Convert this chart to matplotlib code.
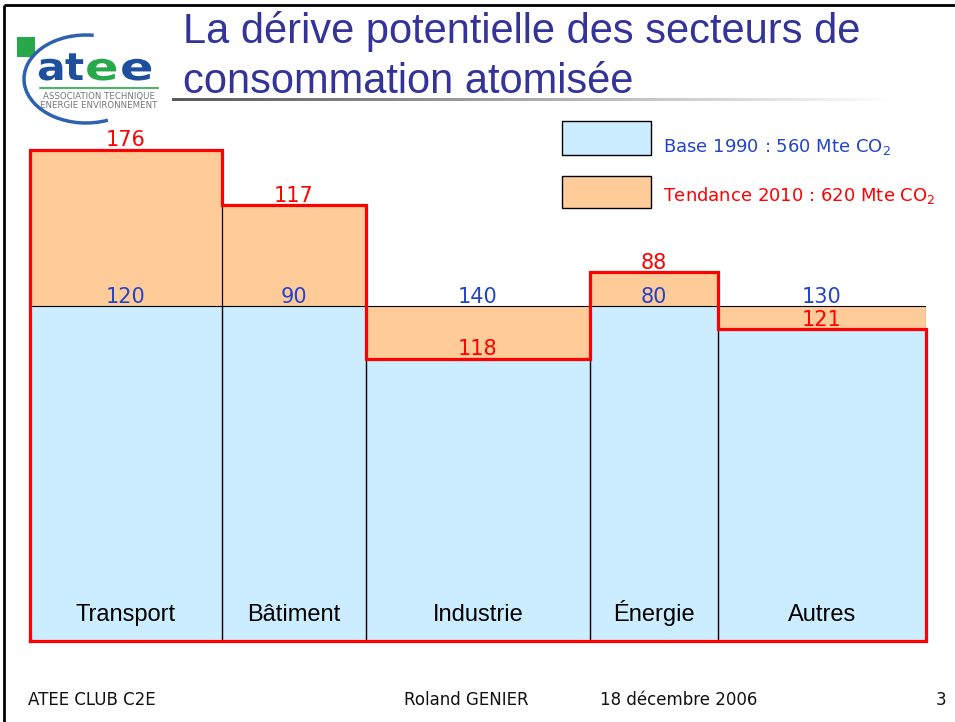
import numpy as np
import matplotlib
matplotlib.use("Agg")
import matplotlib.pyplot as plt
from matplotlib.patches import Rectangle, Arc, PathPatch
from matplotlib.textpath import TextPath
from matplotlib.font_manager import FontProperties
from matplotlib.transforms import Affine2D

categories = ["Transport", "Bâtiment", "Industrie", "Énergie", "Autres"]
base_1990 = [120, 90, 140, 80, 130]
tendance_2010 = [176, 117, 118, 88, 121]
legend_labels = ["Base 1990 : 560 Mte CO$_2$", "Tendance 2010 : 620 Mte CO$_2$"]
title_lines = ["La dérive potentielle des secteurs de", "consommation atomisée"]
footer = ["ATEE CLUB C2E", "Roland GENIER", "18 décembre 2006", "3"]

BLUE_FILL = "#CCECFF"
ORANGE_FILL = "#FFCC99"
BLUE_TXT = "#2244CC"
RED = "#FF0000"
TITLE_COL = "#333399"

W, H = 955, 722
fig = plt.figure(figsize=(W / 100, H / 100), dpi=100)
fig.patch.set_facecolor("white")

# axe principal : largeur = base 1990, hauteur = tendance / base
base = np.array(base_1990, dtype=float)
tend = np.array(tendance_2010, dtype=float)
ratio = tend / base
edges = np.concatenate([[0], np.cumsum(base)])
lefts = edges[:-1]
low = np.minimum(ratio, 1)
high = np.maximum(ratio, 1)

px_bottom, px_one, px_top = 641, 306, 100
ax = fig.add_axes([30 / W, (H - px_bottom) / H, 896 / W, (px_bottom - px_top) / H])
ax.set_xlim(0, edges[-1])
ax.set_ylim(0, (px_bottom - px_top) / (px_bottom - px_one))
ax.axis("off")

ax.bar(lefts, high - low, width=base, bottom=low, align="edge", color=ORANGE_FILL, lw=0)
ax.bar(lefts, low, width=base, align="edge", color=BLUE_FILL, lw=0)
ax.bar(lefts, np.ones(len(base)), width=base, align="edge", fill=False, edgecolor="black", lw=0.8)
ax.bar(lefts, ratio, width=base, align="edge", fill=False, edgecolor="black", lw=0.8)

# contour rouge de la tendance 2010
xs, ys = [0], [0]
for i in range(len(base)):
    xs += [edges[i], edges[i + 1]]
    ys += [ratio[i], ratio[i]]
xs += [edges[-1], 0]
ys += [0, 0]
ax.plot(xs, ys, color=RED, lw=2.3, clip_on=False, solid_joinstyle="miter")

for i, cat in enumerate(categories):
    cx = lefts[i] + base[i] / 2
    ax.annotate(str(base_1990[i]), (cx, 1), xytext=(0, 2.5), textcoords="offset points",
                ha="center", va="baseline", color=BLUE_TXT, fontsize=15, family="DejaVu Sans")
    ax.annotate(str(tendance_2010[i]), (cx, ratio[i]), xytext=(0, 2.5), textcoords="offset points",
                ha="center", va="baseline", color=RED, fontsize=15, family="DejaVu Sans")
    ax.text(cx, 0.06, cat, ha="center", va="baseline", fontsize=17, family="Liberation Sans")

# calque en pixels pour le reste de la diapo
ov = fig.add_axes([0, 0, 1, 1], zorder=5)
ov.set_xlim(0, W)
ov.set_ylim(H, 0)
ov.axis("off")
ov.patch.set_alpha(0)

# cadre
ov.plot([4, W], [5, 5], color="black", lw=2, solid_capstyle="butt")
ov.plot([4, 4], [5, H], color="black", lw=2, solid_capstyle="butt")

# titre
ov.text(183, 43, title_lines[0], color=TITLE_COL, fontsize=30, family="Liberation Sans", va="baseline")
ov.text(183, 93, title_lines[1], color=TITLE_COL, fontsize=30, family="Liberation Sans", va="baseline")
grad = fig.add_axes([172 / W, 1 - 101 / H, (900 - 172) / W, 3 / H], zorder=4)
grad.imshow(np.linspace(0.35, 1, 256)[None, :], cmap="gray", vmin=0, vmax=1, aspect="auto")
grad.axis("off")

# logo atee (lettres larges, d'où TextPath étiré)
logo_blue = "#1D4F9E"
logo_green = "#27A84A"
ov.add_patch(Rectangle((17, 37), 18, 20, color=logo_green, lw=0))
ov.add_patch(Arc((86, 79), 124, 88, theta1=62, theta2=280, color="#2E62B0", lw=2.5))
bold = FontProperties(family="DejaVu Sans", weight="bold")
for ch, x, sx, col in zip("atee", [37, 65, 85, 120], [1.12, 1.05, 1.3, 1.3],
                          [logo_blue, logo_blue, logo_green, logo_blue]):
    tp = TextPath((0, 0), ch, size=38, prop=bold)
    tr = Affine2D().scale(sx, -1.0).translate(x, 80)
    ov.add_patch(PathPatch(tr.transform_path(tp), color=col, lw=0))
ov.plot([40, 158], [88, 88], color=logo_green, lw=1.2)
ov.text(99, 97, "ASSOCIATION TECHNIQUE", color="#777777", fontsize=6.2, ha="center", va="center")
ov.text(99, 105, "ENERGIE ENVIRONNEMENT", color="#777777", fontsize=6.2, ha="center", va="center")

# légende
ov.add_patch(Rectangle((562, 121), 89, 34, facecolor=BLUE_FILL, edgecolor="black", lw=1))
ov.add_patch(Rectangle((562, 176), 89, 32, facecolor=ORANGE_FILL, edgecolor="black", lw=1))
ov.text(663, 152, legend_labels[0], color=BLUE_TXT, fontsize=13, va="baseline")
ov.text(663, 201, legend_labels[1], color=RED, fontsize=13, va="baseline")

# pied de page
ov.text(28, 700, footer[0], fontsize=12, va="center", color="#111111")
ov.text(404, 700, footer[1], fontsize=12, va="center", color="#111111")
ov.text(600, 700, footer[2], fontsize=12, va="center", color="#111111")
ov.text(946, 700, footer[3], fontsize=12, va="center", ha="right", color="#111111")

fig.savefig("out.png", dpi=100)
